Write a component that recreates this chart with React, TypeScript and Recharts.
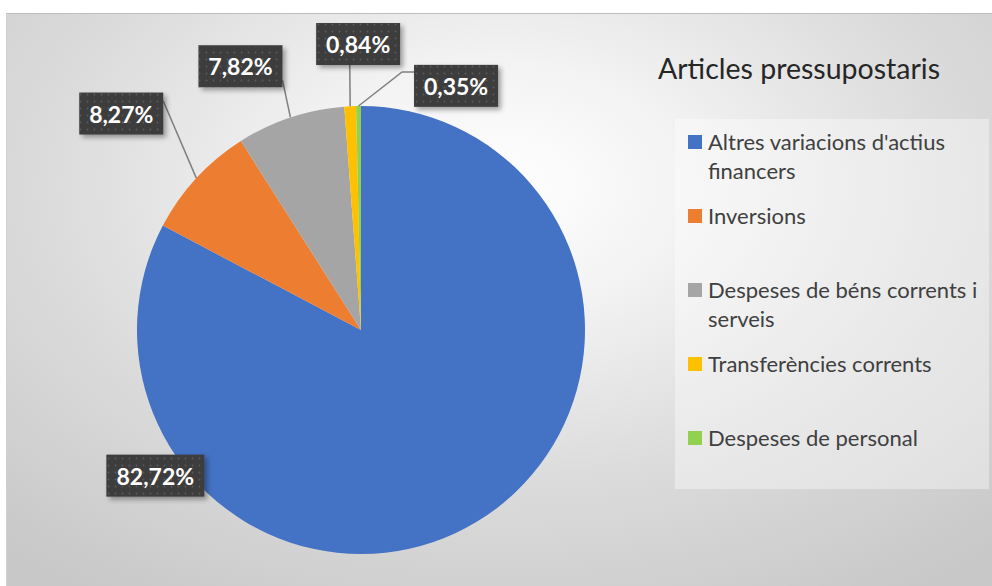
import React from "react";
import { PieChart, Pie, Cell, Legend } from "recharts";

const CATEGORIES = [
  "Altres variacions d'actius financers",
  "Inversions",
  "Despeses de béns corrents i serveis",
  "Transferències corrents",
  "Despeses de personal",
];
const VALUES = [82.72, 8.27, 7.82, 0.84, 0.35];
const COLORS = ["#4472C4", "#ED7D31", "#A5A5A5", "#FFC000", "#92D050"];
const TITLE = "Articles pressupostaris";

// label layout (style only): angular offset (deg, clockwise) from slice mid, distance from centre,
// leader anchor on the box (fractions) and optional elbow
const LABEL_LAYOUT = [
  { offset: 85.8, dist: 252, anchor: null as null | [number, number], elbow: false },
  { offset: -0.6, dist: 323, anchor: [1, 0.2] as [number, number], elbow: false },
  { offset: -6.2, dist: 290, anchor: [1, 0.83] as [number, number], elbow: false },
  { offset: 2.2, dist: 286, anchor: [0.4, 1] as [number, number], elbow: false },
  { offset: 21.9, dist: 262, anchor: [0, 0.17] as [number, number], elbow: true },
];

const data = CATEGORIES.map((name, i) => ({ name, value: VALUES[i] }));

const FONT = "Lato, 'Open Sans', sans-serif";
const RAD = Math.PI / 180;

const renderLabel = (props: any) => {
  const { cx, cy, midAngle, outerRadius, percent, index } = props;
  const lay = LABEL_LAYOUT[index];
  const text = (percent * 100).toFixed(2).replace(".", ",") + "%";
  const a = (midAngle - lay.offset) * RAD;
  const lx = cx + lay.dist * Math.cos(a);
  const ly = cy - lay.dist * Math.sin(a);
  const w = 14 * text.length + 14;
  const h = 42;
  const bx = lx - w / 2;
  const by = ly - h / 2;
  const ex = cx + outerRadius * Math.cos(midAngle * RAD);
  const ey = cy - outerRadius * Math.sin(midAngle * RAD);
  let leader = null;
  if (lay.anchor) {
    const ax = bx + lay.anchor[0] * w;
    const ay = by + lay.anchor[1] * h;
    const pts = lay.elbow
      ? `${ex},${ey} ${ax - 12},${ay} ${ax},${ay}`
      : `${ex},${ey} ${ax},${ay}`;
    leader = <polyline points={pts} fill="none" stroke="#7f7f7f" strokeWidth={1.5} />;
  }
  return (
    <g key={`lbl-${index}`}>
      {leader}
      <rect x={bx} y={by} width={w} height={h} fill="#3d3d3d" filter="url(#lblShadow)" />
      <rect x={bx} y={by} width={w} height={h} fill="url(#dots)" />
      <text
        x={lx}
        y={ly}
        textAnchor="middle"
        dominantBaseline="central"
        fill="#ffffff"
        fontFamily={FONT}
        fontWeight={700}
        fontSize={23}
      >
        {text}
      </text>
    </g>
  );
};

const LegendContent = () => (
  <div style={{ position: "relative", width: 340, height: 460, fontFamily: FONT }}>
    <div
      style={{
        position: "absolute",
        left: 8,
        top: 10,
        fontSize: 28.5,
        color: "#262626",
        whiteSpace: "nowrap",
        lineHeight: "36px",
      }}
    >
      {TITLE}
    </div>
    <div
      style={{
        position: "absolute",
        left: 25,
        top: 79,
        width: 314,
        height: 370,
        background: "rgba(255,255,255,0.38)",
      }}
    >
      {CATEGORIES.map((name, i) => (
        <div
          key={name}
          style={{
            position: "absolute",
            left: 13,
            top: 8 + i * 74,
            width: 290,
            display: "flex",
            alignItems: "flex-start",
          }}
        >
          <div
            style={{
              width: 14,
              height: 14,
              background: COLORS[i],
              marginTop: 8,
              marginRight: 6,
              flex: "none",
            }}
          />
          <div style={{ fontSize: 22, lineHeight: "29px", color: "#404040", width: 275 }}>{name}</div>
        </div>
      ))}
    </div>
  </div>
);

export default function App() {
  return (
    <div style={{ position: "absolute", left: 0, top: 0, width: 992, height: 586, background: "#ffffff" }}>
      <div
        style={{
          position: "absolute",
          left: 6,
          top: 13,
          width: 986,
          height: 573,
          boxSizing: "border-box",
          borderTop: "1.5px solid #bdbdbd",
          borderLeft: "1px solid #d0d0d0",
          background:
            "radial-gradient(ellipse 75% 85% at 50% 30%, #ffffff 0%, #f3f3f3 25%, #dcdcdc 60%, #c8c8c8 100%)",
        }}
      />
      <div style={{ position: "absolute", left: 0, top: 0 }}>
        <PieChart width={992} height={586} margin={{ top: 0, right: 0, bottom: 0, left: 0 }}>
          <defs>
            <pattern id="dots" width="7" height="7" patternUnits="userSpaceOnUse">
              <circle cx="3.5" cy="3.5" r="0.9" fill="#5a5a5a" />
            </pattern>
            <filter id="lblShadow" x="-20%" y="-20%" width="150%" height="160%">
              <feDropShadow dx="3" dy="3" stdDeviation="2.5" floodColor="#000" floodOpacity="0.35" />
            </filter>
          </defs>
          <Pie
            data={data}
            dataKey="value"
            nameKey="name"
            cx={361}
            cy={330}
            outerRadius={224}
            startAngle={90}
            endAngle={-270}
            stroke="none"
            label={renderLabel}
            labelLine={false}
            isAnimationActive={false}
          >
            {data.map((d, i) => (
              <Cell key={d.name} fill={COLORS[i]} stroke="none" />
            ))}
          </Pie>
          <Legend
            content={<LegendContent />}
            wrapperStyle={{ position: "absolute", left: 650, top: 40, width: 340, height: 460 }}
          />
        </PieChart>
      </div>
    </div>
  );
}
